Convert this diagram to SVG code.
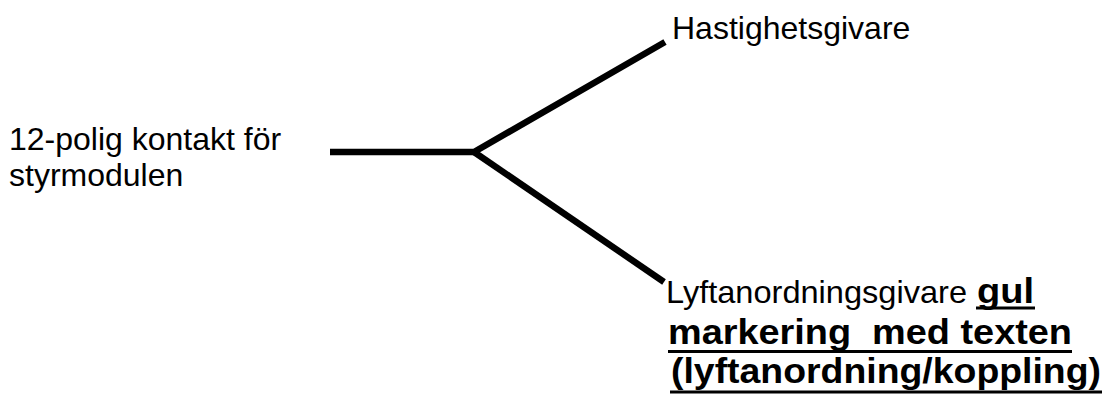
<svg xmlns="http://www.w3.org/2000/svg" width="1106" height="394" viewBox="0 0 1106 394">
<style>
.t{font-family:"Liberation Sans",Arial,sans-serif;font-size:32px;fill:#000;white-space:pre}
.b{font-weight:bold;font-size:35px}
.c{fill:none;stroke:#000;stroke-width:6.5;stroke-linecap:butt;stroke-linejoin:miter}
.u{stroke:#000;stroke-width:3}
</style>
<rect width="1106" height="394" fill="#fff"/>
<g id="connectors">
<path class="c" d="M330,152 H474 L665,42"/>
<path class="c" d="M474,152 L664,282"/>
</g>
<g id="node-kontakt">
<text class="t" x="9" y="150">12-polig kontakt för</text>
<text class="t" x="9" y="186">styrmodulen</text>
</g>
<g id="node-hastighetsgivare">
<text class="t" x="672" y="39">Hastighetsgivare</text>
</g>
<g id="node-lyftanordningsgivare">
<text class="t" x="666" y="303" textLength="301" lengthAdjust="spacingAndGlyphs">Lyftanordningsgivare</text>
<text class="t b" x="977" y="303" textLength="57" lengthAdjust="spacingAndGlyphs">gul</text>
<text class="t b" x="668" y="344" textLength="404" lengthAdjust="spacingAndGlyphs" xml:space="preserve">markering  med texten</text>
<text class="t b" x="671" y="383" textLength="430" lengthAdjust="spacingAndGlyphs">(lyftanordning/koppling)</text>
<line class="u" x1="976" y1="308" x2="1035" y2="308"/>
<line class="u" x1="668" y1="351.5" x2="1072" y2="351.5"/>
<line class="u" x1="670" y1="392" x2="1102" y2="392"/>
</g>
</svg>
